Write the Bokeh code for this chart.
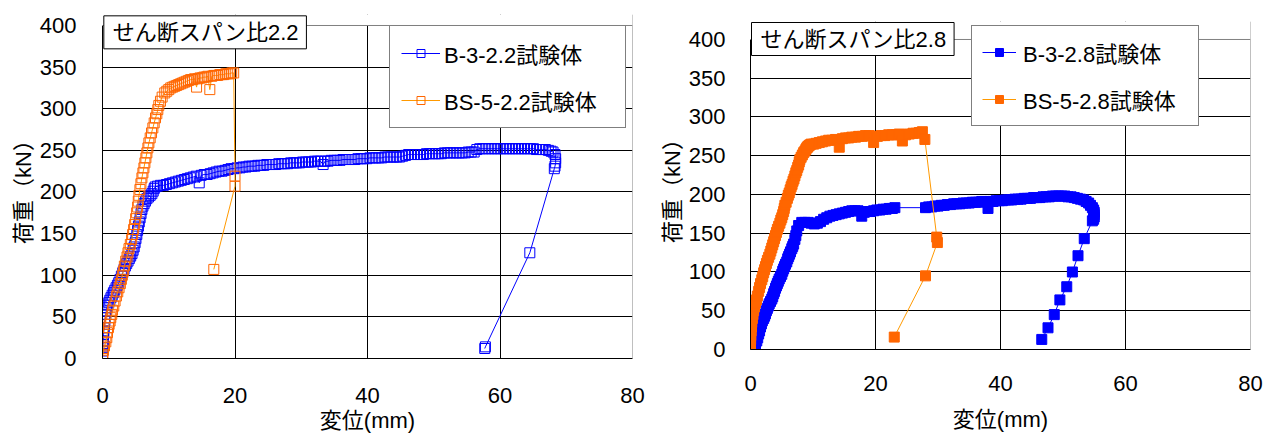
from bokeh.plotting import figure
from bokeh.layouts import row
from bokeh.models import (Range1d, FixedTicker, Label, Legend, LegendItem,
                          BoxAnnotation, Span)
from bokeh.embed import file_html
from bokeh.resources import INLINE

# ---------------- data ----------------
x_ticks = [0, 20, 40, 60, 80]
y_ticks = [0, 50, 100, 150, 200, 250, 300, 350, 400]
x_label = "変位(mm)"
y_label = "荷重（kN）"
titles = ["せん断スパン比2.2", "せん断スパン比2.8"]
names_22 = ["B-3-2.2試験体", "BS-5-2.2試験体"]
names_28 = ["B-3-2.8試験体", "BS-5-2.8試験体"]

# shear span ratio 2.2, specimen B-3
b22_x = [0.00, 0.00, 0.02, 0.04, 0.06, 0.08, 0.10, 0.13, 0.16, 0.20, 0.25, 0.30, 0.36, 0.42,
         0.50, 0.58, 0.68, 0.80, 0.95, 1.10, 1.28, 1.46, 1.65, 1.85, 2.05, 2.25, 2.45, 2.65,
         2.85, 3.05, 3.25, 3.45, 3.65, 3.85, 4.05, 4.25, 4.45, 4.62, 4.78, 4.92, 5.05, 5.18,
         5.30, 5.42, 5.55, 5.68, 5.82, 5.95, 6.10, 6.28, 6.48, 6.70, 6.95, 7.20, 7.45, 7.65,
         7.80, 7.95,
         8.3, 8.75, 9.2, 9.65, 10.1, 10.55, 11.0, 11.45, 11.9, 12.35, 12.8, 13.25, 13.7, 14.15,
         14.6, 14.9, 15.35, 15.8, 16.25, 16.7, 17.15, 17.6, 18.05, 18.5, 18.95, 19.4, 19.85,
         20.3, 20.75, 21.2, 21.65, 22.1, 22.55, 23.0, 23.45, 23.9, 24.35, 24.8, 25.25, 25.7,
         26.15, 26.6, 27.05, 27.5, 27.95, 28.4, 28.85, 29.3, 29.75, 30.2, 30.65, 31.1, 31.55,
         32.0, 32.45, 32.9, 33.3, 33.6, 34.05, 34.5, 34.95, 35.4, 35.85, 36.3, 36.75, 37.2,
         37.65, 38.1, 38.55, 39.0, 39.45, 39.9, 40.35, 40.8, 41.25, 41.7, 42.15, 42.6, 43.05,
         43.5, 43.95, 44.4, 44.85, 45.3, 45.75, 46.2, 46.65, 47.1, 47.55, 48.0, 48.45, 48.9,
         49.35, 49.8, 50.25, 50.7, 51.15, 51.6, 52.05, 52.5, 52.95, 53.4, 53.85, 54.3, 54.75,
         55.2, 55.65, 56.1, 56.5, 56.95, 57.4, 57.85, 58.3, 58.75, 59.2, 59.65, 60.1, 60.55,
         61.0, 61.45, 61.9, 62.35, 62.8, 63.25, 63.7, 64.15, 64.6, 65.05, 65.5, 65.95, 66.4,
         66.85, 67.3, 67.7, 68.0, 68.3, 68.4, 68.4, 68.3, 68.2,
         64.5, 57.8, 57.7]
b22_y = [0, 3, 6, 9, 13, 17, 21, 25, 29, 33, 37, 41, 45, 49,
         53, 57, 61, 64, 67, 70, 73, 76, 79, 82, 85, 88, 91, 95,
         99, 103, 107, 111, 114, 117, 120, 123, 126, 130, 134, 139, 144, 149,
         154, 159, 164, 169, 174, 179, 183, 186, 189, 192, 194, 196, 198, 201,
         204, 206,
         207, 208, 208, 209, 210, 211, 212, 213, 214, 215, 216, 217, 218, 219,
         211, 220, 221, 221, 222, 223, 224, 225, 225, 226, 227, 228, 228,
         229, 229, 230, 230, 231, 231, 231, 232, 232, 232, 233, 233, 233,
         233, 234, 234, 234, 234, 235, 235, 235, 235, 236, 236, 236, 236,
         237, 237, 237, 233, 237, 237, 238, 238, 238, 238, 239, 239, 239,
         239, 239, 240, 240, 240, 240, 241, 241, 241, 241, 241, 242, 242,
         242, 242, 242, 242, 243, 244, 245, 245, 245, 245, 245, 245, 246,
         246, 246, 246, 246, 246, 247, 247, 247, 247, 247, 247, 247, 247,
         248, 248, 248, 251, 252, 252, 252, 252, 252, 252, 252, 252, 252,
         252, 252, 252, 252, 252, 252, 252, 252, 252, 252, 251, 251, 251,
         251, 250, 249, 248, 245, 240, 235, 231, 228,
         127, 14, 12]

# shear span ratio 2.2, specimen BS-5
bs22_x = [0, 0.05, 0.15, 0.3, 0.5, 0.65, 0.75, 0.9, 1.0, 1.15, 1.25, 1.4, 1.5, 1.7, 1.9,
          2.1, 2.3, 2.5, 2.7, 2.85, 3.0, 3.15, 3.3, 3.5, 3.7, 3.85, 4.0, 4.2, 4.4, 4.55,
          4.7, 4.85, 5.0, 5.15, 5.3, 5.4, 5.5, 5.65, 5.8, 5.95, 6.1, 6.25, 6.4, 6.55,
          6.7, 6.85, 7.0, 7.2, 7.4, 7.6, 7.8, 8.0, 8.2, 8.35, 8.5, 8.75, 9.0,
          9.4, 9.7, 10.0, 10.3, 10.6, 10.9, 11.2, 11.5, 11.8, 12.1, 12.4, 12.7, 13.0, 13.3,
          13.6, 13.9, 14.2, 14.4, 14.7, 15.0, 15.3, 15.6, 15.9, 16.2, 16.5, 16.8, 17.1,
          17.4, 17.7, 18.0, 18.3, 18.6, 18.9, 19.2, 19.5, 19.8,
          20.0, 20.0, 16.8]
bs22_y = [0, 5, 10, 15, 20, 25, 31, 37, 41, 45, 49, 53, 58, 63, 69,
          75, 80, 85, 90, 95, 100, 105, 111, 117, 122, 127, 132, 137, 143, 149,
          155, 161, 168, 175, 182, 189, 196, 203, 210, 217, 223, 229, 235, 241,
          247, 253, 259, 265, 271, 277, 283, 289, 294, 299, 304, 309, 314,
          319, 321, 323, 325, 326, 327, 328, 329, 330, 331, 332, 333, 334, 335,
          335, 336, 326, 336, 337, 337, 338, 338, 339, 323, 339, 340, 340,
          340, 341, 341, 341, 342, 342, 342, 343, 343,
          219, 207, 107]

# shear span ratio 2.8, specimen B-3
b28_x = [0.5, 0.7, 0.8, 1.0, 1.15, 1.3, 1.45, 1.6, 1.75, 1.9, 2.1, 2.25, 2.4, 2.55, 2.7,
         2.85, 3.0, 3.2, 3.4, 3.55, 3.7, 3.85, 4.0, 4.15, 4.3, 4.45, 4.6, 4.8, 5.0, 5.15,
         5.3, 5.45, 5.6, 5.8, 5.95, 6.1, 6.25, 6.4, 6.6, 6.75, 6.9, 7.1, 7.25, 7.4, 7.7,
         8.2, 8.7, 9.2, 9.7, 10.2, 10.7, 11.2, 11.7, 12.2, 12.7, 13.2, 13.7, 14.2, 14.7,
         15.2, 15.7, 16.2, 16.7, 17.2, 17.8, 18.2, 18.7, 19.2, 19.7, 20.2, 20.7, 21.2, 21.7,
         22.2, 22.7, 23.1,
         28.0, 28.5, 29.0, 29.5, 30.0, 30.5, 31.0, 31.5, 32.0, 32.5, 33.0, 33.5, 34.0, 34.5,
         35.0, 35.5, 36.0, 36.5, 37.0, 37.5, 38.0, 38.3, 38.8, 39.3, 39.8, 40.3, 40.8, 41.3,
         41.8, 42.3, 42.8, 43.3, 43.8, 44.3, 44.8, 45.3, 45.8, 46.3, 46.8, 47.3, 47.8, 48.3,
         48.8, 49.3, 49.8, 50.3, 50.8, 51.3, 51.8, 52.3, 52.8, 53.3, 53.7, 54.1, 54.4, 54.7,
         54.9, 55.0, 55.0, 55.0, 54.9, 54.7,
         53.4, 52.4, 51.5, 50.6, 49.5, 48.6, 47.6, 46.6]
b28_y = [0, 4, 7, 11, 15, 20, 24, 29, 33, 37, 40, 43, 46, 50, 53,
         56, 59, 62, 65, 68, 72, 75, 79, 82, 85, 88, 91, 94, 97, 101,
         104, 107, 110, 113, 117, 120, 123, 126, 130, 133, 136, 142, 147, 153, 160,
         164, 164, 164, 163, 162, 163, 165, 168, 170, 172, 173, 174, 175, 176,
         177, 178, 179, 179, 179, 172, 177, 178, 178, 179, 180, 180, 181, 181,
         182, 182, 183,
         183, 184, 184, 185, 185, 186, 186, 187, 187, 188, 188, 188, 189, 189,
         189, 190, 190, 190, 191, 191, 182, 191, 191, 192, 192, 192, 193, 193,
         193, 194, 194, 194, 195, 195, 195, 196, 196, 196, 197, 197, 197, 198,
         198, 198, 198, 198, 197, 197, 196, 195, 194, 193, 191, 189, 186, 183,
         180, 177, 174, 171, 168, 166,
         143, 121, 100, 81, 64, 45, 28, 13]

# shear span ratio 2.8, specimen BS-5
bs28_x = [0, 0, 0.02, 0.05, 0.1, 0.15, 0.2, 0.3, 0.4, 0.5, 0.65, 0.8, 0.95, 1.1, 1.3,
          1.45, 1.6, 1.8, 1.95, 2.1, 2.25, 2.4, 2.55, 2.7, 2.9, 3.1, 3.25, 3.4, 3.55, 3.7,
          3.85, 4.0, 4.15, 4.3, 4.5, 4.7, 4.85, 5.0, 5.15, 5.3, 5.4, 5.5, 5.7, 5.9, 6.05,
          6.2, 6.35, 6.5, 6.65, 6.8, 6.95, 7.1, 7.25, 7.4, 7.55, 7.7, 7.8, 7.9, 8.1, 8.3,
          8.5, 8.7, 8.85, 9.0, 9.1, 9.2, 9.35, 9.5, 9.7, 10.1, 10.5, 11.0, 11.5, 12.0,
          12.5, 13.0, 13.6, 14.2, 14.7, 15.2, 15.7, 16.2, 16.8, 17.3, 17.9, 18.4, 19.0,
          19.7, 20.3, 20.9, 21.5, 22.1, 22.7, 23.3, 23.8, 24.3, 24.8, 25.4, 26.0, 26.5,
          27.0, 27.5, 27.9,
          29.8, 29.9, 28.0, 23.0]
bs28_y = [0, 8, 13, 18, 24, 29, 35, 40, 45, 50, 55, 60, 64, 69, 75,
          80, 85, 90, 94, 99, 103, 107, 111, 115, 119, 123, 127, 131, 135, 139,
          143, 147, 151, 155, 159, 163, 167, 170, 174, 178, 182, 186, 190, 195, 199,
          202, 206, 210, 213, 217, 220, 224, 228, 231, 235, 238, 242, 245, 248, 251,
          254, 256, 258, 260, 261, 262, 263, 264, 265, 265, 266, 267, 268, 269,
          270, 270, 271, 261, 272, 273, 273, 274, 274, 275, 275, 276, 276,
          267, 275, 276, 276, 277, 277, 277, 278, 269, 277, 278, 279, 279,
          280, 281, 271,
          145, 138, 95, 16]

BLUE = "#0000FF"
ORANGE_M = "#FF6600"
ORANGE_L = "#FF9900"
FONT_NUM = "Liberation Sans"
FONT_JP = "Liberation Sans, Noto Sans CJK JP"


def make_fig(fw, fh, ytop, bl, br, bt, bb, xstand, ystand, xls, yls):
    p = figure(frame_width=fw, frame_height=fh, frame_align=False,
               min_border_left=bl, min_border_right=br,
               min_border_top=bt, min_border_bottom=bb,
               x_range=Range1d(0, 80), y_range=Range1d(0, ytop),
               output_backend="svg", toolbar_location=None)
    p.xaxis.ticker = FixedTicker(ticks=x_ticks)
    p.yaxis.ticker = FixedTicker(ticks=y_ticks)
    p.yaxis.bounds = (0, 400)
    p.xgrid.ticker = FixedTicker(ticks=x_ticks[1:-1])
    p.ygrid.ticker = FixedTicker(ticks=y_ticks[1:-1])
    for g in (p.xgrid, p.ygrid):
        g.grid_line_color = "black"
        g.grid_line_width = 1
    for ax in (p.xaxis, p.yaxis):
        ax.axis_line_color = "black"
        ax.axis_line_width = 1
        ax.major_tick_line_color = None
        ax.minor_tick_line_color = None
        ax.major_label_text_font = FONT_NUM
        ax.major_label_text_font_size = "22px"
        ax.major_label_text_color = "black"
        ax.axis_label_text_font = FONT_JP
        ax.axis_label_text_font_size = "22px"
        ax.axis_label_text_font_style = "normal"
        ax.axis_label_text_color = "black"
    p.xaxis.major_label_standoff = xstand
    p.yaxis.major_label_standoff = ystand
    p.xaxis.axis_label = x_label
    p.yaxis.axis_label = y_label
    p.xaxis.axis_label_standoff = xls
    p.yaxis.axis_label_standoff = yls
    p.outline_line_color = None
    p.background_fill_color = "white"
    p.border_fill_color = "white"
    # plot-area border: right edge at x = 80, top edge at y = 400
    p.add_layout(Span(location=x_ticks[-1], dimension="height",
                      line_color="#808080", line_width=1))
    p.add_layout(BoxAnnotation(bottom=y_ticks[-1], fill_color="white", fill_alpha=1.0,
                               line_color=None))
    p.add_layout(Span(location=y_ticks[-1], dimension="width",
                      line_color="#808080", line_width=1))
    return p


def add_title(p, text, x, y):
    p.add_layout(Label(x=x, y=y, x_units="data", y_units="data", text=text,
                       anchor="top_left", text_font=FONT_JP, text_font_size="22px",
                       text_color="black", background_fill_color="white",
                       border_line_color="black", border_line_width=1,
                       padding=dict(x=9, y=4)))


def add_legend(p, items, loc, pad, gw, stand, lw, spacing):
    lg = Legend(items=items, location=loc, padding=pad, spacing=spacing,
                glyph_width=gw, glyph_height=20, label_height=20, label_width=lw,
                label_standoff=stand, margin=0,
                label_text_font=FONT_JP, label_text_font_size="22px",
                label_text_color="black", border_line_color="black",
                border_line_width=1, background_fill_color="white",
                background_fill_alpha=1.0)
    p.add_layout(lg)


# ---------------- left chart ----------------
p1 = make_fig(530, 344, 413.2, 102, 18, 14, 74, 23, 20, 2, 1)
l1 = p1.line(b22_x, b22_y, line_color=BLUE, line_width=1)
s1 = p1.scatter(b22_x, b22_y, marker="square", size=10, fill_color=None,
                line_color=BLUE, line_width=1)
l2 = p1.line(bs22_x, bs22_y, line_color=ORANGE_L, line_width=1)
s2 = p1.scatter(bs22_x, bs22_y, marker="square", size=10, fill_color=None,
                line_color=ORANGE_M, line_width=1)
add_title(p1, titles[0], 0.2, 411.6)
add_legend(p1, [LegendItem(label=names_22[0], renderers=[l1, s1]),
                LegendItem(label=names_22[1], renderers=[l2, s2])],
           (287, 230), 11, 39, 4, 170, 15)

# ---------------- right chart ----------------
p2 = make_fig(500, 328, 423.2, 100, 13, 21, 83, 20, 19, 13, 1)
l3 = p2.line(b28_x, b28_y, line_color=BLUE, line_width=1)
s3 = p2.scatter(b28_x, b28_y, marker="square", size=10, fill_color=BLUE,
                line_color=BLUE, line_width=1)
l4 = p2.line(bs28_x, bs28_y, line_color=ORANGE_L, line_width=1)
s4 = p2.scatter(bs28_x, bs28_y, marker="square", size=10, fill_color=ORANGE_M,
                line_color=ORANGE_M, line_width=1)
add_title(p2, titles[1], 0.16, 421.9)
add_legend(p2, [LegendItem(label=names_28[0], renderers=[l3, s3]),
                LegendItem(label=names_28[1], renderers=[l4, s4])],
           (221, 223), 10, 34, 7, 165, 15)

layout = row(p1, p2)
open("out.html", "w").write(file_html(layout, INLINE))
